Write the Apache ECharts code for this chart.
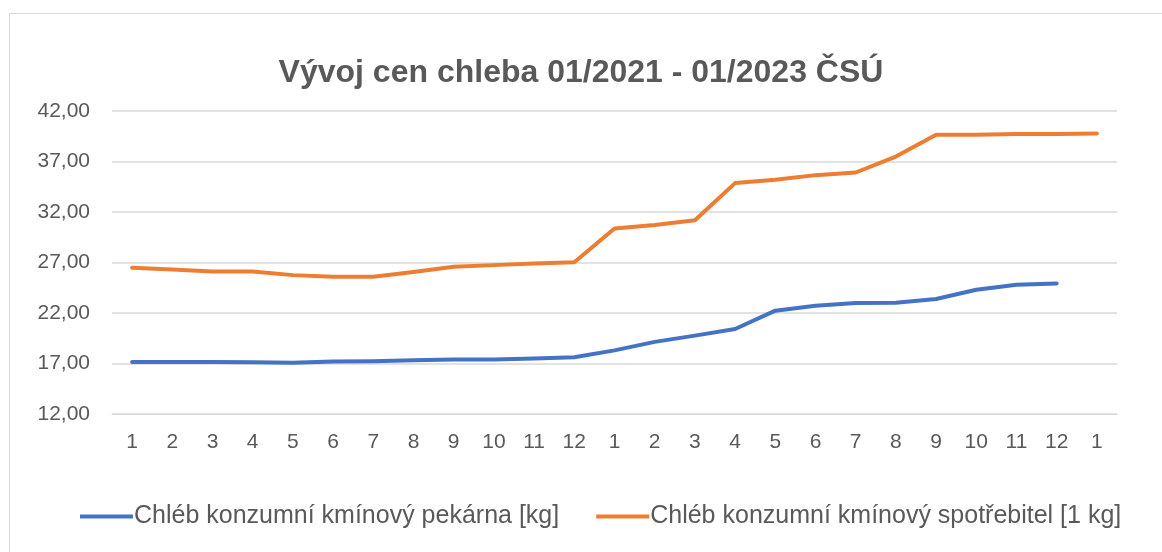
<!DOCTYPE html>
<html>
<head>
<meta charset="utf-8">
<script src="https://cdn.jsdelivr.net/npm/echarts@6/dist/echarts.min.js"></script>
<style>
  html, body { margin: 0; padding: 0; background: #fff; }
  .frame {
    position: absolute;
    left: 9px;
    top: 13px;
    width: 1200px;
    height: 600px;
    border: 1px solid #d9d9d9;
  }
  #chart { position: absolute; left: 0; top: 0; width: 1162px; height: 552px; }
</style>
</head>
<body>
<div class="frame"></div>
<div id="chart"></div>
<script>
  // mesice 01/2021 - 01/2023
  const months = ['1','2','3','4','5','6','7','8','9','10','11','12',
                  '1','2','3','4','5','6','7','8','9','10','11','12','1'];
  const pekarna = [17.16, 17.16, 17.16, 17.13, 17.07, 17.2, 17.23, 17.33, 17.4, 17.4, 17.5, 17.62,
                   18.3, 19.14, 19.76, 20.42, 22.23, 22.72, 22.99, 23.02, 23.38, 24.3, 24.8, 24.93];
  const spotrebitel = [26.47, 26.3, 26.1, 26.1, 25.75, 25.6, 25.6, 26.05, 26.57, 26.74, 26.9, 27.03,
                       30.36, 30.72, 31.18, 34.86, 35.19, 35.65, 35.91, 37.49, 39.66, 39.66, 39.73, 39.73, 39.76];
  const names = ['Chléb konzumní kmínový pekárna [kg]', 'Chléb konzumní kmínový spotřebitel [1 kg]'];

  const font = '"Liberation Sans", "DejaVu Sans", sans-serif';
  let chart = echarts.init(document.getElementById('chart'));
  chart.setOption({
    animation: false,
    color: ['#4472C4', '#ED7D31'],
    title: {
      text: 'Vývoj cen chleba 01/2021 - 01/2023 ČSÚ',
      left: 'center',
      top: 52,
      textStyle: { fontFamily: font, fontSize: 32, fontWeight: 'bold', color: '#595959' }
    },
    legend: {
      bottom: 18,
      left: 75,
      icon: 'rect',
      itemWidth: 53,
      itemHeight: 4,
      itemGap: 37,
      textStyle: { fontFamily: font, fontSize: 25, color: '#595959', padding: [0, 0, 0, -4] },
      data: names
    },
    grid: { left: 112, right: 45, top: 111, bottom: 138 },
    xAxis: {
      type: 'category',
      data: months,
      boundaryGap: true,
      axisLine: { lineStyle: { color: '#d9d9d9' } },
      axisTick: { show: false },
      axisLabel: { fontFamily: font, fontSize: 21, color: '#595959', margin: 18 }
    },
    yAxis: {
      type: 'value',
      min: 12,
      max: 42,
      interval: 5,
      axisLine: { show: false },
      axisTick: { show: false },
      splitLine: { lineStyle: { color: '#d9d9d9', width: 1.5 } },
      axisLabel: {
        fontFamily: font, fontSize: 21, color: '#595959', margin: 22,
        formatter: v => v.toFixed(2).replace('.', ',')
      }
    },
    series: [
      { name: names[0], type: 'line', data: pekarna, showSymbol: false,
        lineStyle: { width: 4, cap: 'round', join: 'round' } },
      { name: names[1], type: 'line', data: spotrebitel, showSymbol: false,
        lineStyle: { width: 4, cap: 'round', join: 'round' } }
    ]
  });
</script>
</body>
</html>
